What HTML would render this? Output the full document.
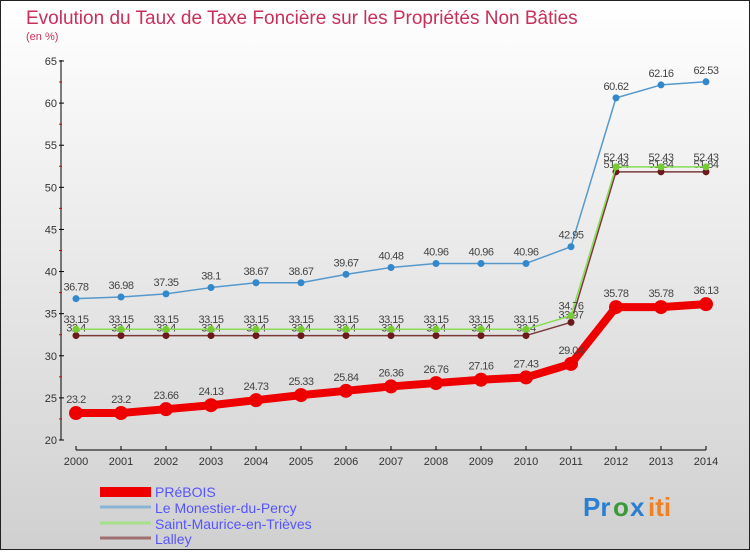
<!DOCTYPE html>
<html><head><meta charset="utf-8"><style>
html,body{margin:0;padding:0}
body{width:750px;height:550px;overflow:hidden;font-family:"Liberation Sans",sans-serif}
</style></head><body>
<svg id="chart" width="750" height="550" viewBox="0 0 750 550" xmlns="http://www.w3.org/2000/svg">
<defs><linearGradient id="bg" x1="0" y1="0" x2="0" y2="1"><stop offset="0" stop-color="#ffffff"/><stop offset="1" stop-color="#d0d0d0"/></linearGradient></defs>
<rect x="0.5" y="0.5" width="749" height="549" fill="url(#bg)" stroke="#222"/>
<text x="26" y="24" font-size="19" fill="#c8305a">Evolution du Taux de Taxe Foncière sur les Propriétés Non Bâties</text>
<text x="26" y="40" font-size="11" fill="#c8305a">(en %)</text>
<g id="axes"></g><g id="series"></g>
<g>
<rect x="100" y="487" width="51" height="10" fill="#e00"/>
<text x="155" y="497" font-size="14" fill="#55f">PRéBOIS</text>
<line x1="100" y1="507" x2="151" y2="507" stroke="#8ab4d6" stroke-width="3"/>
<text x="155" y="513" font-size="14" fill="#55f">Le Monestier-du-Percy</text>
<line x1="100" y1="523" x2="151" y2="523" stroke="#a6e08a" stroke-width="3"/>
<text x="155" y="529" font-size="14" fill="#55f">Saint-Maurice-en-Trièves</text>
<line x1="100" y1="538" x2="151" y2="538" stroke="#a07070" stroke-width="3"/>
<text x="155" y="544" font-size="14" fill="#55f">Lalley</text>
</g>
<g font-size="26" font-weight="bold">
<text x="583" y="516" fill="#2a7fd0">Pr</text><text x="613" y="516" fill="#3a9a3a">o</text><text x="630" y="516" fill="#2a7fd0">x</text><text x="648" y="516" fill="#f08020">iti</text>
</g>
</svg>
<script>
const years=[2000,2001,2002,2003,2004,2005,2006,2007,2008,2009,2010,2011,2012,2013,2014];
const yTicks=[20,25,30,35,40,45,50,55,60,65];
const prebois=[23.2,23.2,23.66,24.13,24.73,25.33,25.84,26.36,26.76,27.16,27.43,29.04,35.78,35.78,36.13];
const monestier=[36.78,36.98,37.35,38.1,38.67,38.67,39.67,40.48,40.96,40.96,40.96,42.95,60.62,62.16,62.53];
const saintMaurice=[33.15,33.15,33.15,33.15,33.15,33.15,33.15,33.15,33.15,33.15,33.15,34.76,52.43,52.43,52.43];
const lalley=[32.4,32.4,32.4,32.4,32.4,32.4,32.4,32.4,32.4,32.4,32.4,33.97,51.84,51.84,51.84];
const NS='http://www.w3.org/2000/svg';
const X=i=>76+i*45;
const Y=v=>440-(v-20)*(379/45);
function mk(p,t,a){const e=document.createElementNS(NS,t);for(const k in a)e.setAttribute(k,a[k]);p.appendChild(e);return e;}
const axes=document.getElementById('axes');
const ya=mk(axes,'line',{x1:61,y1:Y(65)-1,x2:61,y2:Y(20),stroke:'#000','stroke-width':1});


yTicks.forEach(v=>{
 mk(axes,'line',{x1:59,x2:64,y1:Y(v),y2:Y(v),stroke:'#000'});
 const t=mk(axes,'text',{x:57,y:Y(v)+4,'font-size':11,'text-anchor':'end',fill:'#333'});
 t.textContent=v;
 
 
 if(v<65)mk(axes,'line',{x1:59,x2:62,y1:Y(v+2.5),y2:Y(v+2.5),stroke:'#d00'});
});
const xa=mk(axes,'line',{x1:X(0),y1:450,x2:X(14),y2:450,stroke:'#000'});


years.forEach((yr,i)=>{
 mk(axes,'line',{x1:X(i),x2:X(i),y1:446,y2:450,stroke:'#000'});
 const t=mk(axes,'text',{x:X(i),y:465,'font-size':11,'text-anchor':'middle',fill:'#333'});
 t.textContent=yr;
 
 
});
const sg=document.getElementById('series');
function series(name,data,color,w,r,dot,labelDy){
 const g=mk(sg,'g',{});
 
 
 const l=mk(g,'polyline',{points:data.map((v,i)=>X(i)+','+Y(v)).join(' '),fill:'none',stroke:color,'stroke-width':w,'stroke-linejoin':'round'});
 
 
 data.forEach((v,i)=>{
  const c=mk(g,'circle',{cx:X(i),cy:Y(v),r:r,fill:dot});
  
  
  const t=mk(g,'text',{x:X(i),y:Y(v)+labelDy,'font-size':11,'text-anchor':'middle',fill:'#444','letter-spacing':'-0.5'});
  t.textContent=v;
  
  
 });
}
series('lalley',lalley,'#7a3a3a',1.5,3.5,'#6a1a1a',-4);
series('saint-maurice',saintMaurice,'#88dd55',1.5,3.5,'#77cc33',-6);
series('monestier',monestier,'#5599cc',1.5,3.5,'#3388cc',-8);
series('prebois',prebois,'#ee0000',8,7,'#ee0000',-10);
</script>
</body></html>
